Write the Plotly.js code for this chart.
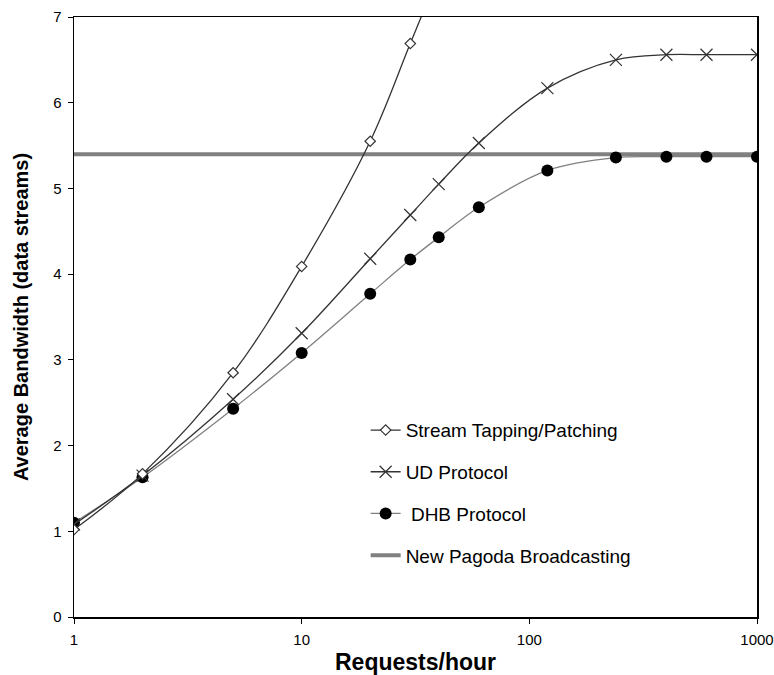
<!DOCTYPE html>
<html>
<head>
<meta charset="utf-8">
<script src="https://cdn.plot.ly/plotly-3.0.1.min.js"></script>
<style>html,body{margin:0;padding:0;background:#fff}#chart{width:774px;height:675px}</style>
</head>
<body>
<div id="chart"></div>
<script>
// Data
var seriesNames = ["Stream Tapping/Patching", "UD Protocol", "\u00a0DHB Protocol", "New Pagoda Broadcasting"];

var stX = [1, 2, 5, 10, 20, 30, 40];
var stY = [1.02, 1.67, 2.85, 4.09, 5.55, 6.69, 7.5];

var udX = [1, 2, 5, 10, 20, 30, 40, 60, 120, 240, 400, 600, 1000];
var udY = [1.08, 1.65, 2.54, 3.31, 4.18, 4.69, 5.05, 5.53, 6.17, 6.50, 6.56, 6.56, 6.56];

var dhbX = [1, 2, 5, 10, 20, 30, 40, 60, 120, 240, 400, 600, 1000];
var dhbY = [1.10, 1.63, 2.43, 3.08, 3.77, 4.17, 4.43, 4.78, 5.21, 5.36, 5.37, 5.37, 5.37];

var pagodaX = [1, 1000];
var pagodaY = [5.40, 5.40];

var xTickVals = [1, 10, 100, 1000];
var xTickText = ["1", "10", "100", "1000"];
var yTickVals = [0, 1, 2, 3, 4, 5, 6, 7];

var xTitle = "Requests/hour";
var yTitle = "Average Bandwidth (data streams)";

var FONT = "Arial, 'Liberation Sans', sans-serif";

var traces = [
  {
    x: pagodaX, y: pagodaY, name: seriesNames[3], mode: "lines",
    line: {color: "#808080", width: 4},
    legendgroup: "d", legendrank: 4
  },
  {
    x: dhbX, y: dhbY, name: seriesNames[2], mode: "lines+markers",
    line: {color: "#808080", width: 1.3, shape: "spline", smoothing: 1},
    marker: {symbol: "circle", size: 12, color: "#000000"},
    legendgroup: "c", legendrank: 3
  },
  {
    x: udX, y: udY, name: seriesNames[1], mode: "lines+markers",
    line: {color: "#333333", width: 1.3, shape: "spline", smoothing: 1},
    marker: {symbol: "x-thin", size: 12, line: {color: "#333333", width: 1.2}},
    legendgroup: "b", legendrank: 2
  },
  {
    x: stX, y: stY, name: seriesNames[0], mode: "lines+markers",
    line: {color: "#333333", width: 1.3, shape: "spline", smoothing: 1},
    marker: {symbol: "diamond", size: 8, color: "#ffffff", line: {color: "#333333", width: 1.2}},
    legendgroup: "a", legendrank: 1
  }
];

var layout = {
  width: 774, height: 675,
  margin: {l: 74, r: 17, t: 17, b: 58},
  paper_bgcolor: "#ffffff", plot_bgcolor: "#ffffff",
  font: {family: FONT, color: "#000000", size: 15},
  showlegend: true,
  legend: {
    x: 0.427, y: 0.343, xanchor: "left", yanchor: "top",
    font: {family: FONT, size: 19, color: "#000000"},
    bgcolor: "rgba(255,255,255,0)", borderwidth: 0,
    traceorder: "grouped", tracegroupgap: 14
  },
  xaxis: {
    type: "log", range: [0, 3], autorange: false,
    tickmode: "array", tickvals: xTickVals, ticktext: xTickText,
    ticks: "outside", ticklen: 5, tickwidth: 1, tickcolor: "#000",
    showline: true, linecolor: "#000", linewidth: 1.5, mirror: true,
    showgrid: false, zeroline: false,
    tickfont: {family: FONT, size: 15, color: "#000"},
    ticklabelstandoff: 3,
    title: {text: "<b>" + xTitle + "</b>", font: {family: FONT, size: 23, color: "#000"}, standoff: 8}
  },
  yaxis: {
    range: [0, 7], autorange: false,
    tickmode: "array", tickvals: yTickVals,
    ticks: "outside", ticklen: 5, tickwidth: 1, tickcolor: "#000",
    showline: true, linecolor: "#000", linewidth: 1.5, mirror: true,
    showgrid: false, zeroline: false,
    tickfont: {family: FONT, size: 15, color: "#000"},
    ticklabelstandoff: 3,
    title: {text: "<b>" + yTitle + "</b>", font: {family: FONT, size: 20, color: "#000"}, standoff: 19}
  }
};

Plotly.newPlot("chart", traces, layout, {displayModeBar: false, staticPlot: true});
</script>
</body>
</html>
